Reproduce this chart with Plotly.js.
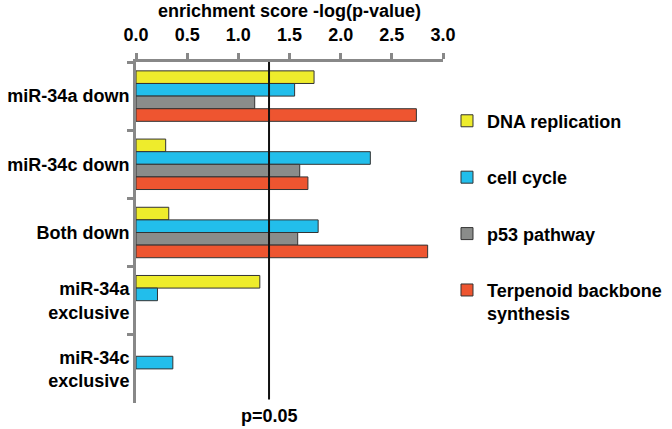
<!DOCTYPE html>
<html>
<head>
<meta charset="utf-8">
<script src="https://cdn.plot.ly/plotly-3.0.1.min.js"></script>
<style>html,body{margin:0;padding:0;background:#fff;}#chart{width:672px;height:429px;}</style>
</head>
<body>
<div id="chart"></div>
<script>
const categories = ["miR-34a down", "miR-34c down", "Both down", "miR-34a<br>exclusive", "miR-34c<br>exclusive"];
const seriesNames = ["DNA replication", "cell cycle", "p53 pathway", "Terpenoid backbone<br>synthesis"];
const dnaReplication = [1.74, 0.29, 0.32, 1.21, null];
const cellCycle = [1.55, 2.29, 1.78, 0.21, 0.36];
const p53Pathway = [1.16, 1.60, 1.58, null, null];
const terpenoid = [2.74, 1.68, 2.85, null, null];
const xTickValues = [0, 0.5, 1, 1.5, 2, 2.5, 3];
const thresholdValue = 1.3;
const thresholdLabel = "p=0.05";

const colors = ["#EEEC2C", "#22BEEB", "#8A8C8A", "#EE5530"];
const values = [dnaReplication, cellCycle, p53Pathway, terpenoid];
const fontFam = "Liberation Sans, Arial, sans-serif";
const fs = 18;

const traces = values.map((v, i) => ({
  type: "bar",
  orientation: "h",
  y: categories,
  x: v,
  name: seriesNames[i],
  legendgroup: "g" + i,
  marker: {color: colors[i], line: {color: "#333333", width: 1}},
  hoverinfo: "x+name"
}));

const layout = {
  width: 672, height: 429,
  margin: {l: 136, r: 229, t: 62, b: 26, autoexpand: false},
  paper_bgcolor: "#fff", plot_bgcolor: "#fff",
  font: {family: fontFam, size: fs, color: "#000", weight: "bold"},
  barmode: "group",
  bargap: 0.26,
  bargroupgap: 0,
  showlegend: true,
  legend: {
    x: 1.013, xanchor: "left", y: 0.881, yanchor: "top",
    font: {family: fontFam, size: fs, color: "#000", weight: "bold"},
    traceorder: "grouped", tracegroupgap: 30, valign: "top",
    bgcolor: "rgba(0,0,0,0)"
  },
  xaxis: {
    side: "top", range: [0, 3], tickvals: xTickValues,
    tickformat: ".1f", ticks: "outside", ticklen: 6, tickwidth: 3, tickcolor: "#888",
    ticklabelstandoff: 5,
    showline: true, linecolor: "#888", linewidth: 3, showgrid: false, zeroline: false,
    tickfont: {family: fontFam, size: fs, color: "#000", weight: "bold"},
    title: {text: "enrichment score -log(p-value)", standoff: 3,
            font: {family: fontFam, size: fs, color: "#000", weight: "bold"}}
  },
  yaxis: {
    autorange: "reversed", type: "category",
    tickson: "boundaries", ticks: "outside", ticklen: 6, tickwidth: 3, tickcolor: "#888",
    showline: true, linecolor: "#888", linewidth: 3, showgrid: false, zeroline: false,
    tickfont: {family: fontFam, size: fs, color: "#000", weight: "bold"}
  },
  shapes: [{type: "line", xref: "x", yref: "paper", x0: thresholdValue, x1: thresholdValue,
            y0: 0.01, y1: 1, line: {color: "#111", width: 2}}],
  annotations: [{xref: "x", yref: "paper", x: thresholdValue, y: 0, yanchor: "top", yshift: -1,
                 text: thresholdLabel, showarrow: false,
                 font: {family: fontFam, size: fs, color: "#000", weight: "bold"}}]
};

Plotly.newPlot("chart", traces, layout, {displayModeBar: false, staticPlot: true});
</script>
</body>
</html>
